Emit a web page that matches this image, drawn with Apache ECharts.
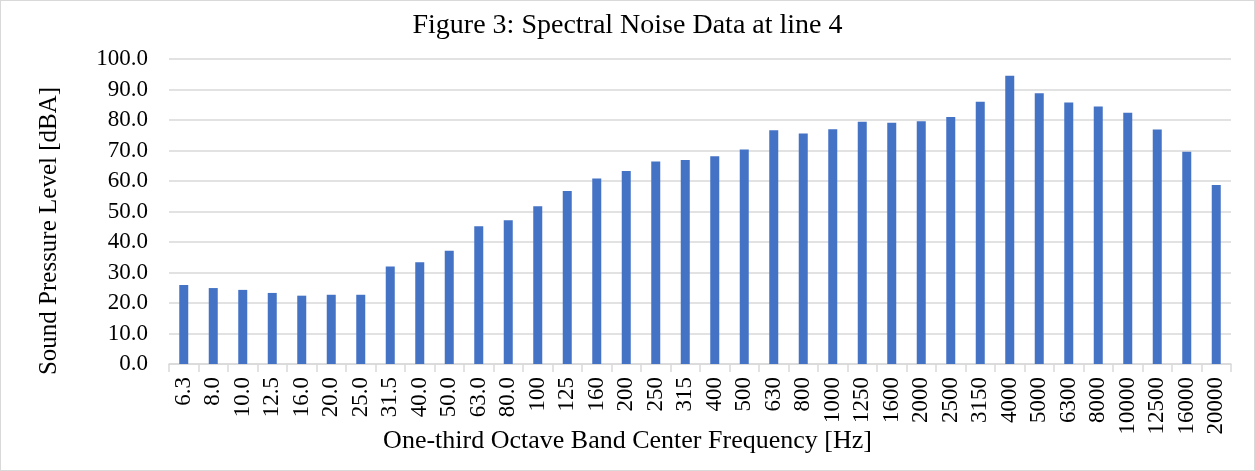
<!DOCTYPE html>
<html>
<head>
<meta charset="utf-8">
<script src="https://cdn.jsdelivr.net/npm/echarts@6/dist/echarts.min.js"></script>
<style>
  html, body { margin: 0; padding: 0; background: #fff; }
  #chart { width: 1253px; height: 469px; border: 1px solid #d9d9d9; }
</style>
</head>
<body>
<div id="chart"></div>
<script>
var bands = ['6.3', '8.0', '10.0', '12.5', '16.0', '20.0', '25.0', '31.5', '40.0', '50.0',
    '63.0', '80.0', '100', '125', '160', '200', '250', '315', '400', '500',
    '630', '800', '1000', '1250', '1600', '2000', '2500', '3150', '4000', '5000',
    '6300', '8000', '10000', '12500', '16000', '20000'];
var levels = [25.9, 24.9, 24.3, 23.3, 22.4, 22.7, 22.7, 32.0, 33.4, 37.1,
    45.2, 47.1, 51.7, 56.7, 60.8, 63.3, 66.4, 66.9, 68.1, 70.3,
    76.6, 75.6, 77.0, 79.4, 79.1, 79.6, 81.0, 86.0, 94.5, 88.8,
    85.7, 84.4, 82.4, 76.9, 69.6, 58.7];

var serif = '"Liberation Serif", "Times New Roman", serif';
var chart = echarts.init(document.getElementById('chart'));
var option = {
    animation: false,
    title: [{
        text: 'Figure 3: Spectral Noise Data at line 4',
        left: 'center',
        top: 6,
        textStyle: { fontFamily: serif, fontWeight: 'normal', fontSize: 28, color: '#000' }
    }, {
        // x axis title is centred on the whole chart, not on the axis
        text: 'One-third Octave Band Center Frequency [Hz]',
        left: 'center',
        top: 422,
        textStyle: { fontFamily: serif, fontWeight: 'normal', fontSize: 26, color: '#000' }
    }],
    graphic: [{
        type: 'text',
        x: 48,
        y: 230,
        rotation: Math.PI / 2,
        style: {
            text: 'Sound Pressure Level [dBA]',
            fontFamily: serif,
            fontSize: 25,
            fill: '#000',
            align: 'center',
            verticalAlign: 'middle'
        }
    }],
    grid: { left: 168, right: 23, top: 58, bottom: 106, outerBoundsMode: 'none' },
    xAxis: {
        type: 'category',
        data: bands,
        axisLine: { lineStyle: { color: '#d9d9d9', width: 1.5 } },
        axisTick: { show: true, length: 8, lineStyle: { color: '#d9d9d9', width: 1.5 } },
        axisLabel: { interval: 0, rotate: 90, margin: 13, fontFamily: serif, fontSize: 23, color: '#000' }
    },
    yAxis: {
        type: 'value',
        min: 0,
        max: 100,
        interval: 10,
        axisLine: { show: false },
        axisTick: { show: false },
        axisLabel: {
            margin: 21,
            fontFamily: serif,
            fontSize: 23,
            color: '#000',
            formatter: function (v) { return v.toFixed(1); }
        },
        splitLine: { lineStyle: { color: '#d9d9d9', width: 1.5 } }
    },
    series: [{
        type: 'bar',
        data: levels,
        barWidth: 9,
        itemStyle: { color: '#4472c4' }
    }]
};
chart.setOption(option);
window.addEventListener('resize', function () {
    chart.resize();
});
</script>
</body>
</html>
